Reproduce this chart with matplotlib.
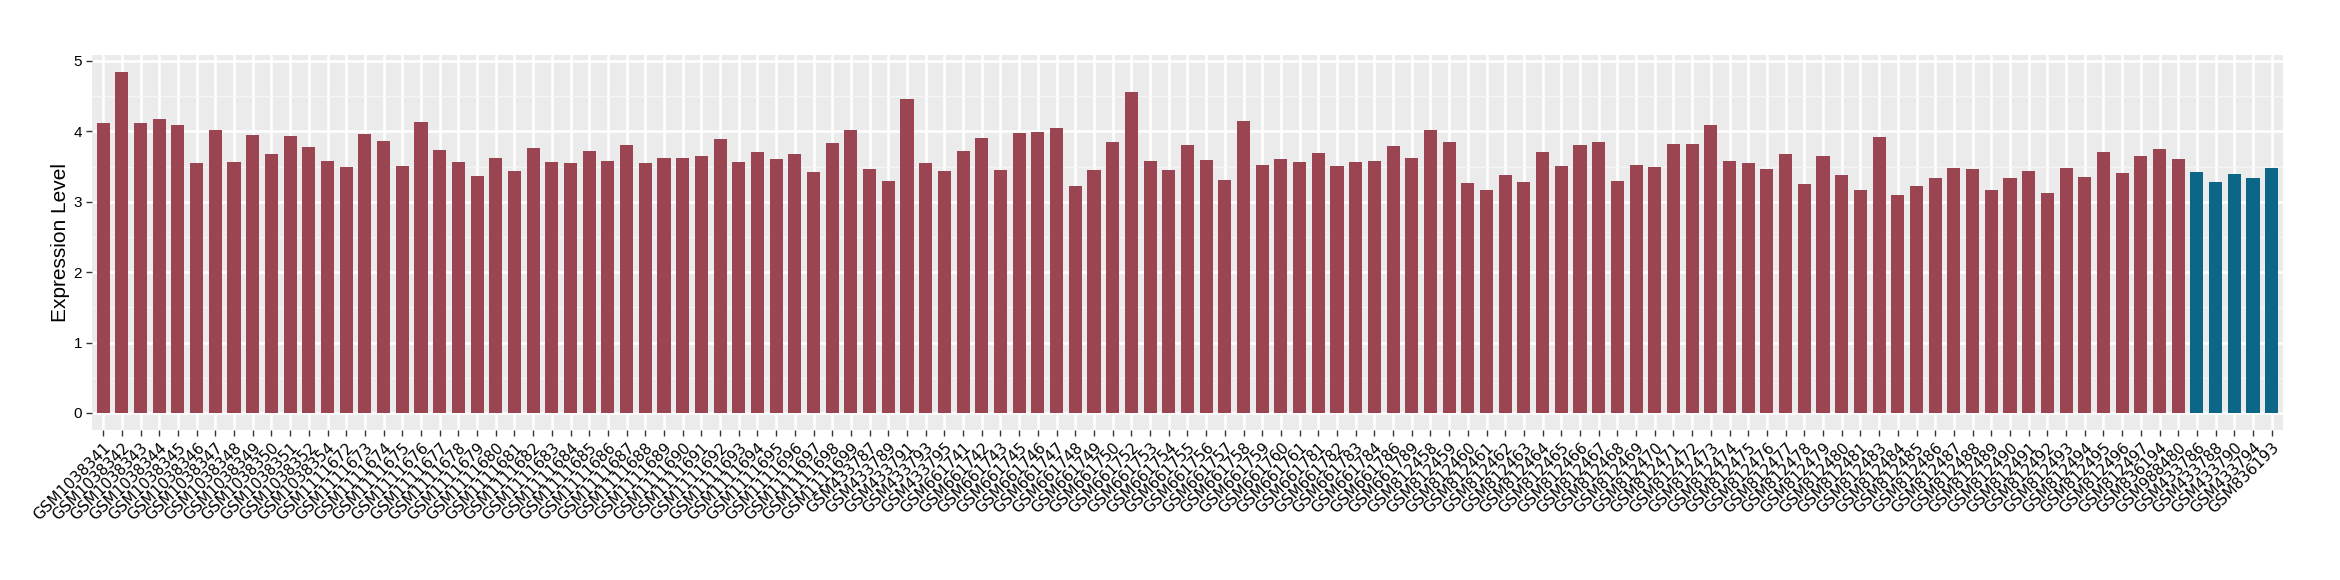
import matplotlib
matplotlib.use("Agg")
import matplotlib.pyplot as plt
import numpy as np

# sample ids
samples = (
    ["GSM10383%02d" % i for i in range(41, 53)] + ["GSM1038354"]
    + ["GSM11116%02d" % i for i in range(72, 100)]
    + ["GSM433787", "GSM433789", "GSM433791", "GSM433793", "GSM433795"]
    + ["GSM6617%02d" % i for i in [41, 42, 43, 45, 46, 47, 48, 49, 50, 52, 53, 54, 55,
                                    56, 57, 58, 59, 60, 61, 81, 82, 83, 84, 86, 89]]
    + ["GSM8124%02d" % i for i in list(range(58, 82)) + list(range(83, 98))]
    + ["GSM836194", "GSM988480"]
    + ["GSM433786", "GSM433788", "GSM433790", "GSM433794", "GSM836193"]
)

expression = [
    4.12, 4.84, 4.12, 4.17, 4.09, 3.55, 4.02, 3.57, 3.95, 3.68,
    3.93, 3.78, 3.58, 3.50, 3.96, 3.86, 3.51, 4.13, 3.74, 3.57,
    3.37, 3.62, 3.44, 3.76, 3.57, 3.55, 3.72, 3.58, 3.81, 3.55,
    3.62, 3.62, 3.65, 3.89, 3.57, 3.71, 3.61, 3.68, 3.42, 3.83,
    4.02, 3.47, 3.30, 4.46, 3.55, 3.44, 3.72, 3.91, 3.45, 3.98,
    3.99, 4.05, 3.23, 3.45, 3.85, 4.56, 3.58, 3.45, 3.81, 3.59,
    3.31, 4.15, 3.52, 3.61, 3.57, 3.69, 3.51, 3.57, 3.58, 3.79,
    3.62, 4.02, 3.85, 3.27, 3.16, 3.38, 3.28, 3.71, 3.51, 3.81,
    3.85, 3.30, 3.52, 3.50, 3.82, 3.82, 4.09, 3.58, 3.55, 3.47,
    3.68, 3.25, 3.65, 3.38, 3.17, 3.92, 3.10, 3.23, 3.33, 3.48,
    3.47, 3.17, 3.34, 3.44, 3.13, 3.48, 3.35, 3.71, 3.41, 3.65,
    3.75, 3.61, 3.42, 3.28, 3.40, 3.34, 3.48,
]

# the last five samples are the second group
group = ["case"] * (len(samples) - 5) + ["control"] * 5
group_colors = {"case": "#9B4452", "control": "#0B6688"}

fig = plt.figure(figsize=(23.4, 5.8), dpi=100)
ax = fig.add_axes([0.0393, 0.2586, 0.9363, 0.6466])

x = np.arange(1, len(samples) + 1)
ax.set_facecolor("#EBEBEB")
ax.set_axisbelow(True)
ax.bar(x, expression, width=0.7, color=[group_colors[g] for g in group], zorder=3)

ax.set_xlim(0.4, len(samples) + 0.6)
ax.set_ylim(-0.242, 5.084)
ax.set_yticks(range(0, 6))
ax.set_yticks(np.arange(0.5, 5, 1), minor=True)
ax.grid(which="major", color="white", linewidth=1.8)
ax.grid(which="minor", axis="y", color="#F5F5F5", linewidth=1.0)

ax.set_xticks(x)
ax.set_xticklabels(samples, rotation=45, ha="right", va="top",
                   rotation_mode="anchor", fontsize=11, family="DejaVu Sans")
for lab in ax.get_yticklabels():
    lab.set_family("Liberation Sans")
ax.tick_params(axis="both", which="major", length=4, width=1, color="#333333",
               labelcolor="black", pad=3)
ax.tick_params(axis="y", labelsize=11)
ax.tick_params(which="minor", length=0)

for s in ax.spines.values():
    s.set_visible(False)

ax.set_ylabel("Expression Level", fontsize=15, family="Liberation Sans", labelpad=3)

fig.savefig("out.png", dpi=100)
